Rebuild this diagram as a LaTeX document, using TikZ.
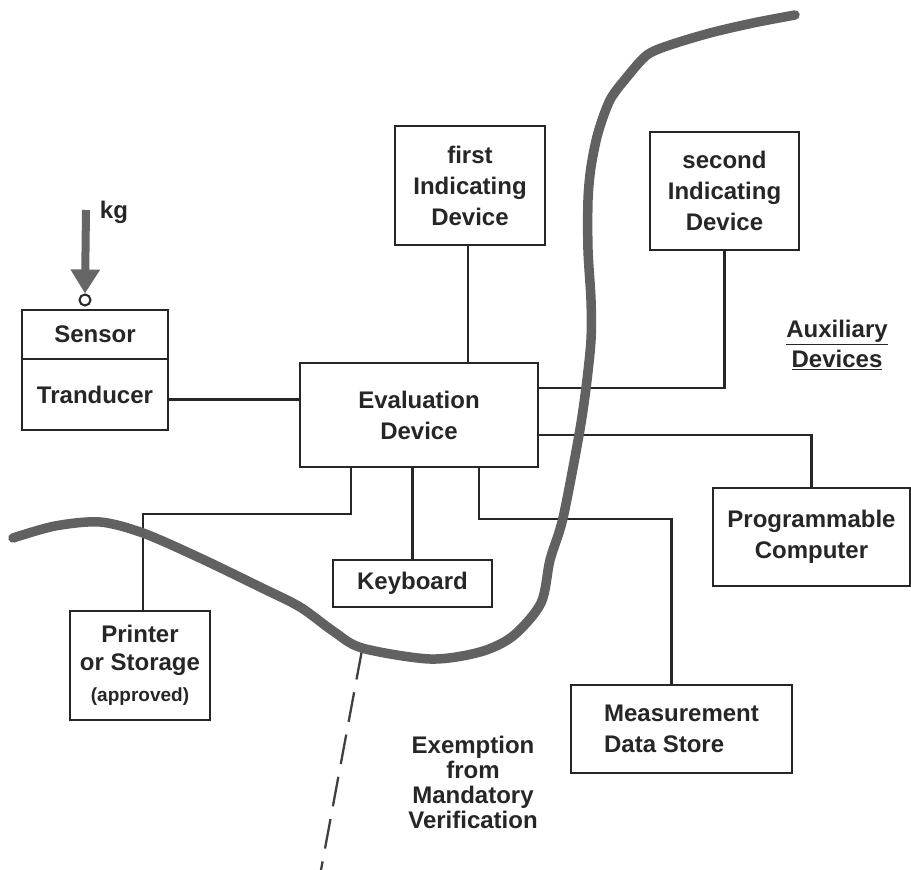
\documentclass[tikz,border=0pt]{standalone}
\usepackage{fontspec}
\setmainfont{Liberation Sans}
\usetikzlibrary{arrows.meta}
\newcommand\lblfont{\fontsize{24}{31}\selectfont\bfseries}
\begin{document}
\begin{tikzpicture}[x=1pt,y=-1pt,
  box/.style={draw=black!85, line width=2.4pt, rectangle, inner sep=0pt, align=center, font=\lblfont, text=black!85},
  conn/.style={draw=black!85, line width=2.3pt},
  boundary/.style={draw=black!62, line width=9.5pt, line cap=round, line join=round},
  dashline/.style={draw=black!75, line width=2.3pt, dash pattern=on 30pt off 13pt},
  plain/.style={font=\lblfont, text=black!85, align=center, inner sep=0pt}]
\useasboundingbox (0,0) rectangle (911,870);
\fill[white] (0,0) rectangle (911,870);

% boxes
\node[box, minimum width=146pt, minimum height=49pt] (sensor) at (95,334.5) {Sensor};
\node[box, minimum width=146pt, minimum height=71pt] (trans) at (95,394.5) {Tranducer};
\node[box, minimum width=238pt, minimum height=104pt] (eval) at (419,415) {Evaluation\\Device};
\node[box, minimum width=150pt, minimum height=119pt] (first) at (470,185.5) {first\\Indicating\\Device};
\node[box, minimum width=149pt, minimum height=118pt] (second) at (724.5,191) {second\\Indicating\\Device};
\node[box, minimum width=197pt, minimum height=98pt] (prog) at (811.5,537) {Programmable\\Computer};
\node[box, minimum width=221pt, minimum height=88pt, align=left] (meas) at (681.5,729) {Measurement\\Data Store};
\node[box, minimum width=159pt, minimum height=47pt] (keyb) at (412.5,583.5) {Keyboard};
\node[box, minimum width=140pt, minimum height=109pt, font=\fontsize{24}{28}\selectfont\bfseries] (printer) at (140,665.5) {Printer\\or Storage\\[3pt]{\fontsize{19}{24}\selectfont (approved)}};

% sensor input
\node[circle, draw=black!85, line width=2pt, minimum size=11pt, inner sep=0pt] (pivot) at (85,300) {};
\coordinate (kgtop) at (86,210);
\draw[draw=black!60, line width=8pt, -{Triangle[width=28pt,length=24pt]}, color=black!60] (kgtop) -- (pivot.north);
\node[plain] (kg) at (114,212) {kg};

% labels
\node[plain, font=\fontsize{24}{30}\selectfont\bfseries] (aux) at (837,345) {\underline{Auxiliary}\\\underline{Devices}};
\node[plain, font=\fontsize{24}{25}\selectfont\bfseries] (exempt) at (473,782) {Exemption\\from\\Mandatory\\Verification};

% connectors
\draw[conn] ([yshift=-5pt]trans.east) -- ([yshift=-5pt]trans.east -| eval.west);
\draw[conn] (first.south -| 468,0) -- (eval.north -| 468,0);
\draw[conn] (second.south) |- ([yshift=27pt]eval.east);
\draw[conn] (prog.north) |- ([yshift=-20pt]eval.east);
\draw[conn] ([xshift=60pt]eval.south) -- ++(0,51) -| ([xshift=-10pt]meas.north);
\draw[conn] (keyb.north |- eval.south) -- (keyb.north);
\draw[conn] ([xshift=-68pt]eval.south) -- ++(0,46) -| ([xshift=3pt]printer.north);

% exemption boundary
\coordinate (dashstart) at (362,650);
\coordinate (dashend) at (321,870);
\draw[dashline] (dashstart) -- (dashend);
\draw[boundary] plot[smooth, tension=0.5] coordinates {
 (795,15) (753,23) (710,33) (670,45) (647,55) (627,77) (610,100) (598,133)
 (591,167) (588,200) (588,250) (591,300) (591,340) (586,388) (579,435)
 (563,518) (550,560) (541,603) (513,636) (480,652) (430,659) (362,648)
 (333,631) (300,607) (260,587) (200,558) (143,533) (100,522) (55,526) (13,538)};
\end{tikzpicture}
\end{document}
